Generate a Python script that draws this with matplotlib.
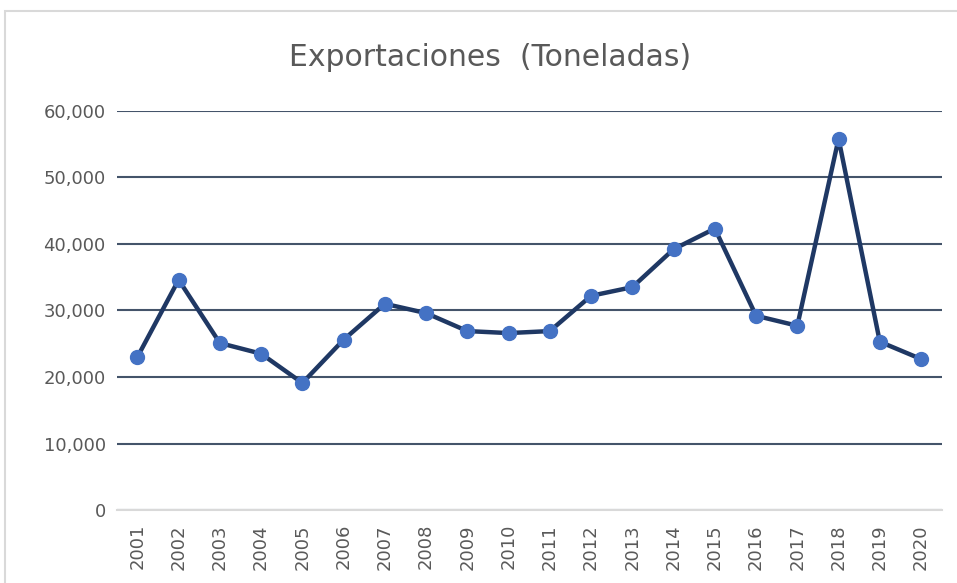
import matplotlib
matplotlib.use("Agg")
import matplotlib.pyplot as plt
from matplotlib.patches import Rectangle
from matplotlib.ticker import FuncFormatter

years = [str(y) for y in range(2001, 2021)]
exports = [23000, 34600, 25100, 23500, 19100, 25600, 31000, 29600, 26900, 26600,
           26900, 32200, 33500, 39200, 42300, 29200, 27700, 55800, 25300, 22700]

fig = plt.figure(figsize=(9.57, 5.83), dpi=100)
ax = fig.add_axes([0.122, 0.125, 0.862, 0.685])

# chart frame (only top and left edges fall inside the picture)
fig.patches.append(Rectangle((5 / 957, -0.1), 1.2, 1.1 - 11 / 583, transform=fig.transFigure,
                             fill=False, edgecolor="#D9D9D9", linewidth=1.5))

x = range(len(years))
ax.plot(x, exports, color="#1F3864", linewidth=3.2, marker="o", markersize=10,
        markerfacecolor="#4472C4", markeredgecolor="#4472C4", zorder=3)

ax.set_xlim(-0.5, len(years) - 0.5)
ax.set_ylim(0, 60000)
ax.set_yticks(range(0, 60001, 10000))
ax.yaxis.set_major_formatter(FuncFormatter(lambda v, p: f"{int(v):,}"))
ax.set_xticks(list(x))
ax.set_xticklabels(years, rotation=90)

ax.grid(axis="y", color="#44546A", linewidth=1.5)
ax.set_axisbelow(True)
for s in ["top", "right", "left"]:
    ax.spines[s].set_visible(False)
ax.spines["bottom"].set_color("#D9D9D9")
ax.spines["bottom"].set_linewidth(1.5)
ax.tick_params(axis="both", length=0, labelsize=13, colors="#595959", pad=8)
ax.tick_params(axis="x", pad=10)

fig.text(0.512, 1 - 57 / 583, "Exportaciones  (Toneladas)", ha="center", va="center",
         fontsize=21.5, color="#595959")

fig.savefig("out.png", dpi=100)
